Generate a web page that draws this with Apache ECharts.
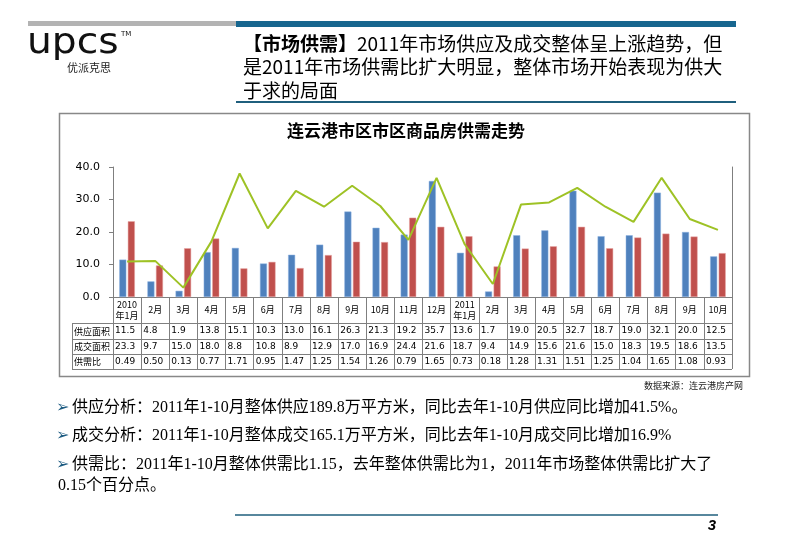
<!DOCTYPE html>
<html>
<head>
<meta charset="utf-8">
<script src="https://cdn.jsdelivr.net/npm/echarts@6/dist/echarts.min.js"></script>
<style>
html,body{margin:0;padding:0;background:#fff;}
#c{width:800px;height:553px;}
</style>
</head>
<body>
<div id="c"></div>
<script>
var months = ['2010\n年1月','2月','3月','4月','5月','6月','7月','8月','9月','10月','11月','12月','2011\n年1月','2月','3月','4月','5月','6月','7月','8月','9月','10月'];
var supply = [11.5,4.8,1.9,13.8,15.1,10.3,13.0,16.1,26.3,21.3,19.2,35.7,13.6,1.7,19.0,20.5,32.7,18.7,19.0,32.1,20.0,12.5];
var deal = [23.3,9.7,15.0,18.0,8.8,10.8,8.9,12.9,17.0,16.9,24.4,21.6,18.7,9.4,14.9,15.6,21.6,15.0,18.3,19.5,18.6,13.5];
var ratio = [0.49,0.50,0.13,0.77,1.71,0.95,1.47,1.25,1.54,1.26,0.79,1.65,0.73,0.18,1.28,1.31,1.51,1.25,1.04,1.65,1.08,0.93];
var rowNames = ['供应面积','成交面积','供需比'];
var yTicks = [0,10,20,30,40];

var chart = echarts.init(document.getElementById('c'), null, {renderer:'canvas'});
var gridTop = 167, gridBottomY = 297, gridLeft = 113, gridRight = 732;
var tableLines = [323,339,354,369];
var tableLeft = 72;
var lineCol = '#7f7f7f';

function rowAxis(idx, offset, arr, digits){
  return {
    type:'category', data:months, gridIndex:0, position:'bottom', offset:offset,
    axisLine:{show:false}, axisTick:{show:false}, splitLine:{show:false},
    axisLabel:{
      interval:0, margin:3,
      formatter:function(v,i){ return '{a|' + arr[i].toFixed(digits) + '}'; },
      rich:{a:{width:24, align:'left', fontSize:9, fontFamily:'DejaVu Sans', color:'#000'}}
    }
  };
}

var graphics = [
  {type:'rect', shape:{x:28,y:21,width:208,height:5}, style:{fill:'#b3b3b3'}},
  {type:'rect', shape:{x:236,y:21,width:500,height:6}, style:{fill:'#17668f'}},
  {type:'text', x:27, y:44, scaleX:1.12, style:{text:'upcs', font:'35px "DejaVu Sans"', fill:'#111', verticalAlign:'middle'}},
  {type:'text', x:121, y:31, style:{text:'TM', font:'7px "DejaVu Sans"', fill:'#111'}},
  {type:'text', x:67, y:68, style:{text:'优派克思', font:'11px "Noto Sans CJK SC"', fill:'#222', verticalAlign:'middle'}},
  {type:'text', x:243, y:44, style:{text:'{b|【市场供需】}2011年市场供应及成交整体呈上涨趋势，但', font:'19px "Noto Sans CJK SC"', fill:'#000', verticalAlign:'middle', rich:{b:{fontWeight:'bold', fontSize:19, fontFamily:'Noto Sans CJK SC'}}}},
  {type:'text', x:243, y:67, style:{text:'是2011年市场供需比扩大明显，整体市场开始表现为供大', font:'19px "Noto Sans CJK SC"', fill:'#000', verticalAlign:'middle'}},
  {type:'text', x:243, y:91, style:{text:'于求的局面', font:'19px "Noto Sans CJK SC"', fill:'#000', verticalAlign:'middle'}},
  {type:'line', shape:{x1:236,y1:102,x2:736,y2:102}, style:{stroke:'#1f5f7d', lineWidth:2}},
  {type:'rect', shape:{x:59.5,y:113.5,width:690,height:263}, style:{fill:'none', stroke:'#888', lineWidth:1.5}},
  {type:'text', x:406, y:131, style:{text:'连云港市区市区商品房供需走势', font:'bold 17px "Noto Sans CJK SC"', fill:'#000', align:'center', verticalAlign:'middle'}},
  {type:'text', x:743, y:386, style:{text:'数据来源：连云港房产网', font:'9px "Noto Sans CJK SC"', fill:'#222', align:'right', verticalAlign:'middle'}},
  {type:'line', shape:{x1:235,y1:515,x2:718,y2:515}, style:{stroke:'#1f5f7d', lineWidth:1.5}},
  {type:'text', x:712, y:526, style:{text:'3', font:'italic bold 15px "Liberation Sans"', fill:'#000', align:'center', verticalAlign:'middle'}}
];
tableLines.forEach(function(y){
  graphics.push({type:'line', shape:{x1:tableLeft,y1:y+0.5,x2:gridRight,y2:y+0.5}, style:{stroke:lineCol, lineWidth:1}});
});
graphics.push({type:'line', shape:{x1:tableLeft+0.5,y1:tableLines[0],x2:tableLeft+0.5,y2:tableLines[3]}, style:{stroke:lineCol, lineWidth:1}});
rowNames.forEach(function(n,i){
  var yc = (tableLines[i]+tableLines[i+1])/2 + 0.5;
  graphics.push({type:'text', x:74, y:yc, style:{text:n, font:'9px "Noto Sans CJK SC"', fill:'#000', verticalAlign:'middle'}});
});
var bullets = [
  {y:408, t:'供应分析：2011年1-10月整体供应189.8万平方米，同比去年1-10月供应同比增加41.5%。'},
  {y:436, t:'成交分析：2011年1-10月整体成交165.1万平方米，同比去年1-10月成交同比增加16.9%'},
  {y:465, t:'供需比：2011年1-10月整体供需比1.15，去年整体供需比为1，2011年市场整体供需比扩大了'}
];
bullets.forEach(function(b){
  graphics.push({type:'text', x:56, y:b.y, style:{text:'➢', font:'16px "DejaVu Sans"', fill:'#1b5a80', verticalAlign:'middle'}});
  graphics.push({type:'text', x:72, y:b.y, style:{text:b.t, font:'16px "Liberation Serif","Noto Sans CJK SC"', fill:'#000', verticalAlign:'middle'}});
});
graphics.push({type:'text', x:58, y:486, style:{text:'0.15个百分点。', font:'16px "Liberation Serif","Noto Sans CJK SC"', fill:'#000', verticalAlign:'middle'}});

var option = {
  animation:false,
  backgroundColor:'#fff',
  grid:{left:gridLeft, right:800-gridRight, top:gridTop, bottom:553-gridBottomY, containLabel:false},
  xAxis:[
    {
      type:'category', data:months, position:'bottom',
      axisLine:{lineStyle:{color:lineCol, width:1}},
      axisTick:{show:true, interval:0, length:72, lineStyle:{color:lineCol}},
      axisLabel:{interval:0, margin:13, verticalAlign:'middle', align:'center', fontSize:9, lineHeight:11, color:'#000', fontFamily:'Noto Sans CJK SC'},
      splitLine:{show:false}
    },
    rowAxis(1, 26, supply, 1),
    rowAxis(2, 42, deal, 1),
    rowAxis(3, 57, ratio, 2)
  ],
  yAxis:[
    {
      type:'value', min:yTicks[0], max:yTicks[yTicks.length-1], interval:10,
      axisLine:{show:true, lineStyle:{color:lineCol}},
      axisTick:{show:true, length:4, lineStyle:{color:lineCol}},
      axisLabel:{margin:13, formatter:function(v){return v.toFixed(1);}, fontSize:11, fontFamily:'DejaVu Sans', color:'#000'},
      splitLine:{show:false}
    },
    {
      type:'value', min:0, max:1.8, position:'right',
      axisLine:{show:true, lineStyle:{color:lineCol}},
      axisTick:{show:false}, axisLabel:{show:false}, splitLine:{show:false}
    }
  ],
  series:[
    {name:'供应面积', type:'bar', data:supply, barWidth:7, barGap:'22%', itemStyle:{color:'#4f81bd', borderColor:'#8db3e2', borderWidth:0.5}},
    {name:'成交面积', type:'bar', data:deal, barWidth:7, barGap:'22%', itemStyle:{color:'#c0504d', borderColor:'#e6a3a1', borderWidth:0.5}},
    {name:'供需比', type:'line', data:ratio, yAxisIndex:1, symbol:'none', lineStyle:{color:'#9ec225', width:2}, itemStyle:{color:'#9ec225'}}
  ],
  graphic:graphics
};
chart.setOption(option);
</script>
</body>
</html>
